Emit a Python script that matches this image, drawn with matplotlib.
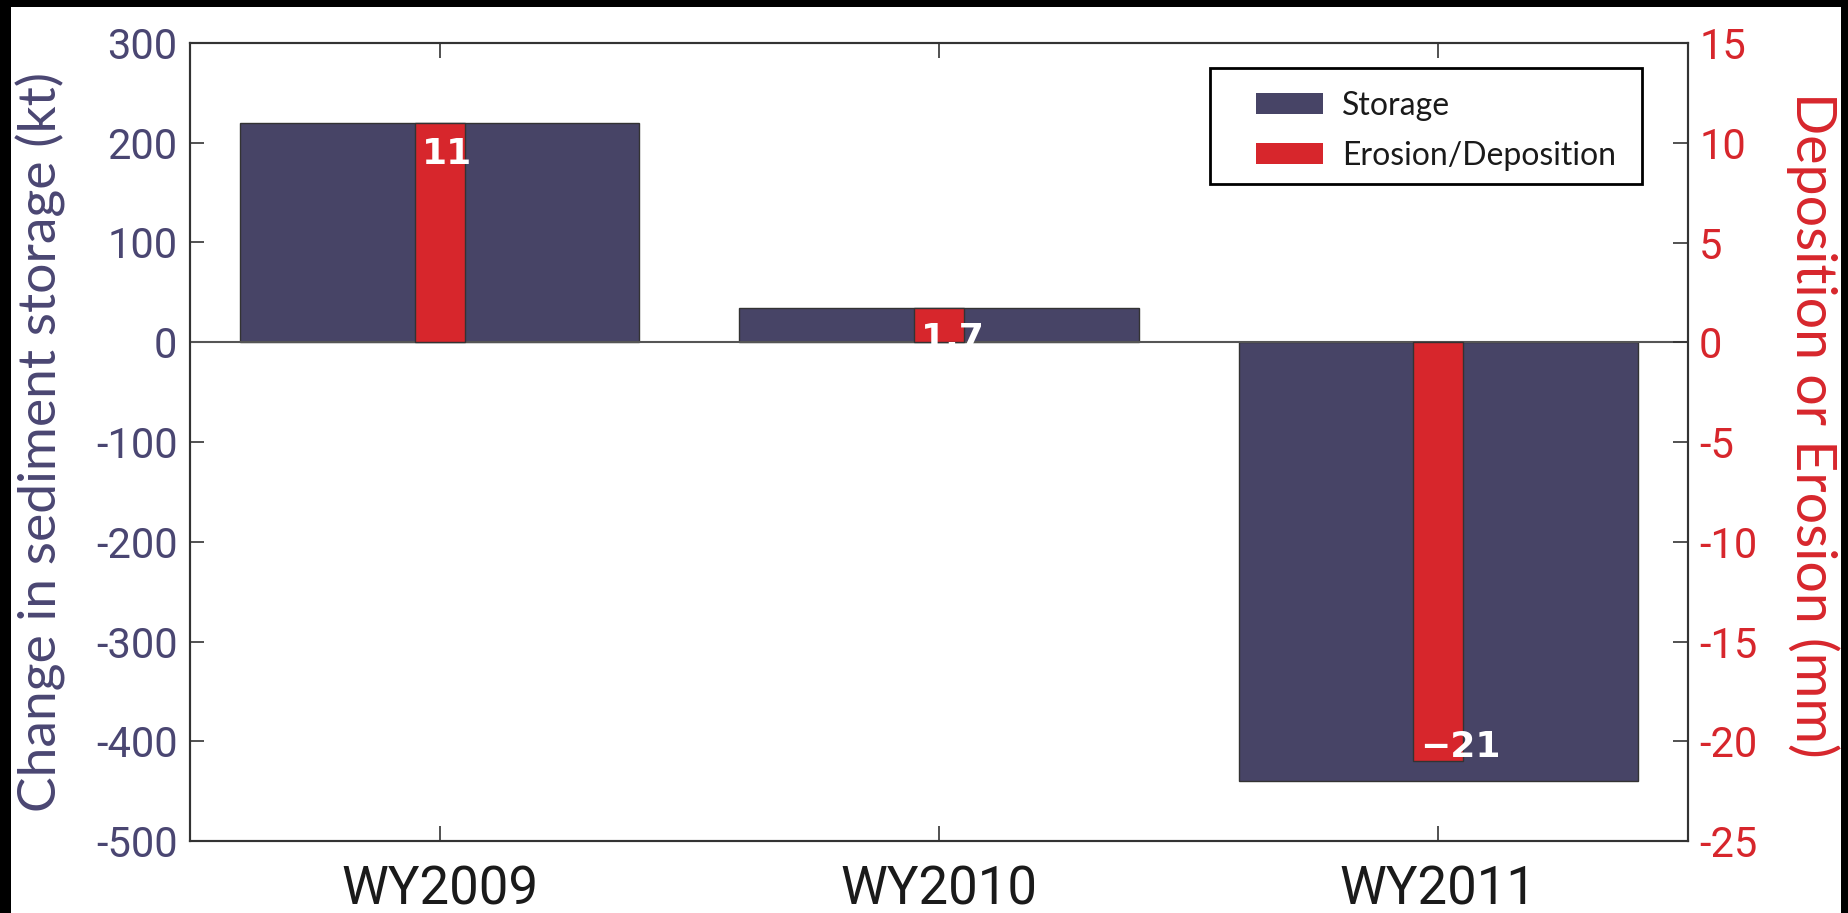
import numpy as np
import matplotlib
matplotlib.use('Agg')
import matplotlib.pyplot as plt
from matplotlib import font_manager
from matplotlib.patches import Patch, Rectangle

# values
years = ['WY2009', 'WY2010', 'WY2011']
storage_kt = [220, 34, -440]
erosion_mm = [11, 1.7, -21]
storage_ticks = [-500, -400, -300, -200, -100, 0, 100, 200, 300]
erosion_ticks = [-25, -20, -15, -10, -5, 0, 5, 10, 15]

STORAGE_COL = '#474466'
RED = '#d7262c'
LEFT_TXT = '#4a4672'
EDGE = '#333333'

installed = {f.name for f in font_manager.fontManager.ttflist}
narrow = 'Liberation Sans Narrow' if 'Liberation Sans Narrow' in installed else 'Roboto'
label_font = 'Lato'

plt.rcParams['axes.unicode_minus'] = False

fig = plt.figure(figsize=(18.49, 9.13), dpi=100, facecolor='black')
# white page inside the black border of the scan
fig.add_artist(Rectangle((11 / 1849, 0), 1830 / 1849, 906 / 913, transform=fig.transFigure,
                         facecolor='white', edgecolor='none', zorder=-10))

ax = fig.add_axes([190 / 1849, 72 / 913, 1498 / 1849, 798 / 913])
x = np.arange(1, len(years) + 1)

ax.bar(x, storage_kt, width=0.8, color=STORAGE_COL, edgecolor=EDGE, linewidth=1.0, zorder=2)
ax.axhline(0, color='#555555', lw=1.5, zorder=3)
ax.set_xlim(0.5, 3.5)
ax.set_ylim(-500, 300)
ax.set_yticks(storage_ticks)
ax.set_xticks(x, years)
ax.tick_params(axis='y', direction='in', length=10, width=1.2, color=EDGE,
               labelcolor=LEFT_TXT, labelsize=30, pad=9)
ax.tick_params(axis='x', direction='in', top=True, length=11, width=1.2, color=EDGE,
               labelcolor='#1a1a1a', labelsize=38, pad=17)
for lab in ax.get_yticklabels() + ax.get_xticklabels():
    lab.set_family([narrow, 'DejaVu Sans'])
ax.set_ylabel('Change in sediment storage (kt)', color=LEFT_TXT, fontsize=38.5, family=label_font)
ax.yaxis.set_label_coords(-0.083, 0.50)

ax2 = ax.twinx()
ax2.bar(x, erosion_mm, width=0.1, color=RED, edgecolor=EDGE, linewidth=1.0, zorder=2)
ax2.set_ylim(-25, 15)
ax2.set_yticks(erosion_ticks)
ax2.tick_params(axis='y', direction='in', length=11, width=1.2, color=EDGE,
                labelcolor=RED, labelsize=30, pad=8)
for lab in ax2.get_yticklabels():
    lab.set_family([narrow, 'DejaVu Sans'])
ax2.set_ylabel('Deposition or Erosion (mm)', color=RED, fontsize=40, family=label_font,
               rotation=270, va='bottom')
ax2.yaxis.set_label_coords(1.0654, 0.521)

for a in (ax, ax2):
    for sp in a.spines.values():
        sp.set_color(EDGE)
        sp.set_linewidth(1.5)

# value labels on the red bars
for xi, v in zip(x, erosion_mm):
    txt = ('%g' % v).replace('-', '\u2212')
    if v >= 0:
        ax2.annotate(txt, (xi - 0.036, v), xytext=(0, -10), textcoords='offset points',
                     ha='left', va='top', color='white', fontsize=26, fontweight='bold')
    else:
        ax2.annotate(txt, (xi - 0.036, v), xytext=(0, 3), textcoords='offset points',
                     ha='left', va='baseline', color='white', fontsize=26, fontweight='bold')

# legend with a plain black frame
ax2.add_patch(Rectangle((0.681, 0.823), 0.288, 0.146, transform=ax2.transAxes,
                        facecolor='white', edgecolor='black', lw=2, zorder=4))
handles = [Patch(facecolor=STORAGE_COL, edgecolor='none'), Patch(facecolor=RED, edgecolor='none')]
leg = ax2.legend(handles, ['Storage', 'Erosion/Deposition'], loc='upper left',
                 bbox_to_anchor=(0.7116, 0.94), borderaxespad=0, borderpad=0,
                 frameon=False, prop={'family': label_font, 'size': 23},
                 handlelength=2.1, handleheight=0.65, handletextpad=0.6, labelspacing=0.62)
leg.set_zorder(5)
for t in leg.get_texts():
    t.set_color('#1a1a1a')

fig.savefig('out.png', dpi=100, facecolor=fig.get_facecolor())
